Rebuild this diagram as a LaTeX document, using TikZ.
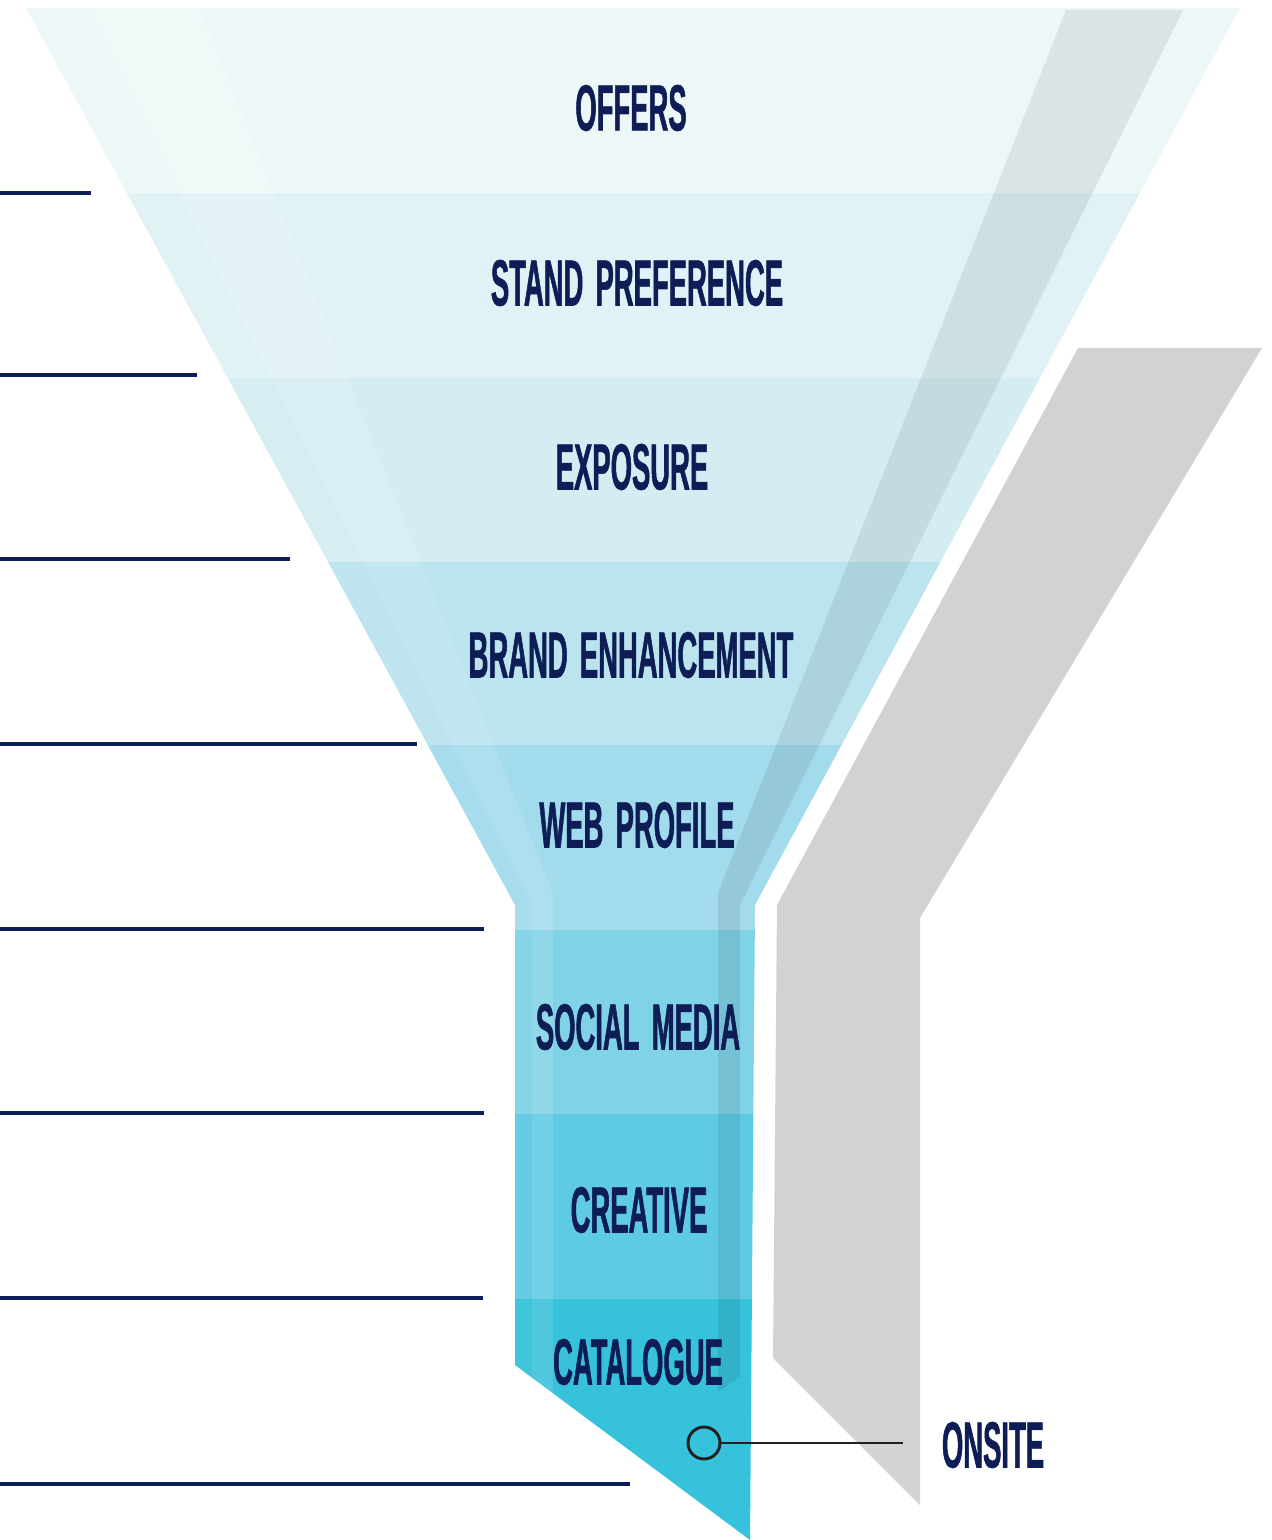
\documentclass[tikz,border=0pt]{standalone}
\usepackage{fontspec}
\usepackage{tikz}
\newfontfamily\funnelfont[FakeStretch=0.42,FakeBold=0.8,WordSpace=1.6]{Liberation Sans}

\definecolor{navyink}{RGB}{14,29,86}
\definecolor{inkdark}{RGB}{35,31,32}
\definecolor{bandA}{HTML}{EEF7F8}
\definecolor{bandB}{HTML}{E0F2F5}
\definecolor{bandC}{HTML}{D4EDF2}
\definecolor{bandD}{HTML}{BBE4EF}
\definecolor{bandE}{HTML}{A2DBEC}
\definecolor{bandF}{HTML}{80D2E6}
\definecolor{bandG}{HTML}{5ECAE4}
\definecolor{bandH}{HTML}{36C2DB}
\definecolor{greyarm}{HTML}{D1D2D4}

\begin{document}
\begin{tikzpicture}[x=0.75pt,y=0.75pt,yscale=-1,xscale=1,
  lbl/.style={font=\funnelfont\bfseries\fontsize{49}{49}\selectfont, text=navyink, inner sep=0pt},
  rule/.style={draw=navyink, line width=2.3pt}]
\useasboundingbox (0,0) rectangle (1271,1540);

%Shape: Funnel bands
\begin{scope}
\clip (26,8) -- (1240,8) -- (755,905) -- (750,1540) -- (515,1365) -- (515,905) -- cycle;
\fill [bandA] (0,8) rectangle (1271,193);
\fill [bandB] (0,193) rectangle (1271,378);
\fill [bandC] (0,378) rectangle (1271,562);
\fill [bandD] (0,562) rectangle (1271,745);
\fill [bandE] (0,745) rectangle (1271,930);
\fill [bandF] (0,930) rectangle (1271,1114);
\fill [bandG] (0,1114) rectangle (1271,1299);
\fill [bandH] (0,1299) rectangle (1271,1540);
%Shape: Light stripes
\fill [white, opacity=0.05] (26,8) -- (88,8) -- (532,905) -- (532,1540) -- (515,1540) -- (515,905) -- cycle;
\fill [white, opacity=0.13] (88,8) -- (200,8) -- (553,893) -- (553,1540) -- (532,1540) -- (532,905) -- cycle;
%Shape: Shade stripe
\fill [black, opacity=0.08] (1066,10) -- (1183,10) -- (740,905) -- (740,1377) -- (718,1392) -- (718,893) -- cycle;
\end{scope}

%Shape: Grey arm
\fill [greyarm] (1078,348) -- (1262,348) -- (920,918) -- (920,1505) -- (773,1358) -- (777,905) -- cycle;

%Straight Lines
\draw [rule] (0,193) -- (91,193);
\draw [rule] (0,375) -- (197,375);
\draw [rule] (0,559) -- (290,559);
\draw [rule] (0,744) -- (417,744);
\draw [rule] (0,929) -- (484,929);
\draw [rule] (0,1113) -- (484,1113);
\draw [rule] (0,1298) -- (483,1298);
\draw [rule] (0,1484) -- (630,1484);

% Text Node
\draw (631,108) node [lbl] (offers) {OFFERS};
% Text Node
\draw (637,283) node [lbl] (stand) {STAND PREFERENCE};
% Text Node
\draw (632,467) node [lbl] (exposure) {EXPOSURE};
% Text Node
\draw (631,655) node [lbl] (brand) {BRAND ENHANCEMENT};
% Text Node
\draw (637,825) node [lbl] (web) {WEB PROFILE};
% Text Node
\draw (638,1027) node [lbl] (social) {SOCIAL MEDIA};
% Text Node
\draw (639,1210) node [lbl] (creative) {CREATIVE};
% Text Node
\draw (638,1362) node [lbl] (catalogue) {CATALOGUE};
% Text Node
\draw (993,1445) node [lbl] (onsite) {ONSITE};

%Shape: Circle
\draw (704,1443) node [circle, draw=inkdark, line width=2.2pt, minimum size=24pt, inner sep=0pt] (dot) {};
\coordinate (lineend) at (903,1443);
%Straight Lines
\draw [inkdark, line width=1.6pt] (dot) -- (lineend);

\end{tikzpicture}
\end{document}
